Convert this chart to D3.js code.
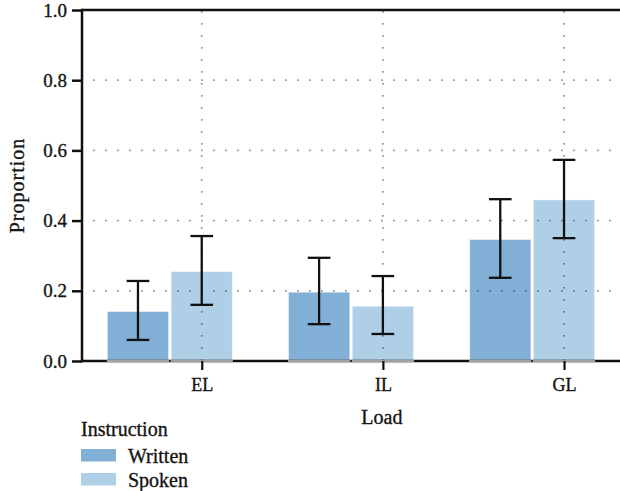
<!DOCTYPE html>
<html>
<head>
<meta charset="utf-8">
<script src="https://cdn.jsdelivr.net/npm/d3@7/dist/d3.min.js"></script>
<style>
  html, body { margin: 0; padding: 0; background: #fff; }
  svg { display: block; }
</style>
</head>
<body>
<svg id="chart" width="620" height="491"></svg>
<script>
// Proportion of responses by load type and instruction mode, with error bars
const categories = ["EL", "IL", "GL"];
const seriesNames = ["Written", "Spoken"];
const writtenMean  = [0.141, 0.196, 0.346];
const writtenLower = [0.060, 0.105, 0.237];
const writtenUpper = [0.228, 0.294, 0.461];
const spokenMean   = [0.255, 0.156, 0.459];
const spokenLower  = [0.160, 0.077, 0.350];
const spokenUpper  = [0.356, 0.242, 0.573];
const yTicks = [0, 0.2, 0.4, 0.6, 0.8, 1.0];
const colors = { Written: "#82afd6", Spoken: "#aecfe6" };
const SERIF = '"Liberation Serif", "Times New Roman", serif';
const INK = "#151515";

const rows = [];
categories.forEach((c, i) => {
  rows.push({ cat: c, series: "Written", v: writtenMean[i], lo: writtenLower[i], hi: writtenUpper[i] });
  rows.push({ cat: c, series: "Spoken",  v: spokenMean[i],  lo: spokenLower[i],  hi: spokenUpper[i] });
});

// shared text styling
function ink(sel, size) {
  sel.style("font-family", SERIF).style("font-size", size + "px")
    .attr("fill", INK).attr("stroke", INK).attr("stroke-width", 0.35);
}

const svg = d3.select("#chart");
const plotLeft = 82, plotRight = 620, plotTop = 10, plotBottom = 361;

const y = d3.scaleLinear().domain([0, 1]).range([plotBottom, plotTop]);
const x0 = d3.scaleBand().domain(categories).range([plotLeft, plotRight])
  .paddingInner(0.31).paddingOuter(0.14);
const x1 = d3.scaleBand().domain(seriesNames).range([0, x0.bandwidth()])
  .paddingInner(0.04);

// tick positions sit at the centre of the second bar in each group
const tickPos = d3.scaleOrdinal().domain(categories)
  .range(categories.map(c => x0(c) + x1("Spoken") + x1.bandwidth() / 2));

const bars = svg.append("g");
const over = svg.append("g");

// bars
bars.selectAll("rect").data(rows).join("rect")
  .attr("x", d => x0(d.cat) + x1(d.series))
  .attr("width", x1.bandwidth())
  .attr("y", d => y(d.v))
  .attr("height", d => y(0) - y(d.v))
  .attr("fill", d => colors[d.series])
  .attr("stroke", "#ffffff")
  .attr("stroke-opacity", 0.45)
  .attr("stroke-width", 1);

// dotted grid drawn over the bars
function dottedStyle(sel) {
  sel.attr("stroke", "#000").attr("stroke-opacity", 0.4)
    .attr("stroke-width", 1.8).attr("stroke-dasharray", "1.8,10.2");
}
over.selectAll("line.hgrid").data(yTicks.filter(t => t > 0 && t < 1)).join("line")
  .attr("class", "hgrid")
  .attr("x1", plotLeft + 11).attr("x2", plotRight)
  .attr("y1", d => y(d)).attr("y2", d => y(d))
  .call(dottedStyle);
over.selectAll("line.vgrid").data(categories).join("line")
  .attr("class", "vgrid")
  .attr("x1", d => tickPos(d)).attr("x2", d => tickPos(d))
  .attr("y1", y(1) + 1).attr("y2", y(0))
  .call(dottedStyle);

// frame lines: left axis, top and bottom
const frame = svg.append("g").attr("stroke", "#111").attr("stroke-width", 2.5);
frame.append("line").attr("x1", plotLeft).attr("x2", plotLeft).attr("y1", y(1) - 1.25).attr("y2", y(0) + 1.25);
frame.append("line").attr("x1", plotLeft).attr("x2", plotRight).attr("y1", y(1)).attr("y2", y(1));
frame.append("line").attr("x1", plotLeft).attr("x2", plotRight).attr("y1", y(0)).attr("y2", y(0));

// grey bar baselines over the axis line
svg.append("g").selectAll("line").data(rows).join("line")
  .attr("x1", d => x0(d.cat) + x1(d.series) - 0.5)
  .attr("x2", d => x0(d.cat) + x1(d.series) + x1.bandwidth() + 0.5)
  .attr("y1", y(0)).attr("y2", y(0))
  .attr("stroke", "#a3a3a3").attr("stroke-width", 2.5);

// error bars
const capW = x1.bandwidth() * 0.37;
const eb = svg.append("g").attr("stroke", "#111").attr("stroke-width", 2.3);
rows.forEach(d => {
  const cx = x0(d.cat) + x1(d.series) + x1.bandwidth() / 2;
  eb.append("line").attr("x1", cx).attr("x2", cx).attr("y1", y(d.lo)).attr("y2", y(d.hi));
  eb.append("line").attr("x1", cx - capW / 2).attr("x2", cx + capW / 2).attr("y1", y(d.lo)).attr("y2", y(d.lo));
  eb.append("line").attr("x1", cx - capW / 2).attr("x2", cx + capW / 2).attr("y1", y(d.hi)).attr("y2", y(d.hi));
});

// y axis ticks and labels
const yAxis = svg.append("g").attr("transform", `translate(${plotLeft},0)`)
  .call(d3.axisLeft(y).tickValues(yTicks).tickFormat(d3.format(".1f")).tickSize(10).tickPadding(5));
yAxis.select(".domain").remove();
yAxis.selectAll(".tick line").attr("stroke", "#111").attr("stroke-width", 2.5);
yAxis.selectAll(".tick text").call(ink, 19);

// x axis ticks and labels
const xAxis = svg.append("g").attr("transform", `translate(0,${plotBottom})`)
  .call(d3.axisBottom(tickPos).tickSize(9).tickPadding(8));
xAxis.select(".domain").remove();
xAxis.selectAll(".tick line").attr("stroke", "#111").attr("stroke-width", 2.2);
xAxis.selectAll(".tick text").call(ink, 18);

// axis titles
svg.append("text").attr("transform", `translate(24,${(y(0) + y(1)) / 2}) rotate(-90)`)
  .attr("text-anchor", "middle").attr("letter-spacing", 1).call(ink, 20)
  .text("Proportion");
svg.append("text").attr("x", d3.mean(categories, c => tickPos(c)) - 1).attr("y", 424)
  .attr("text-anchor", "middle").call(ink, 20).text("Load");

// legend
const legend = svg.append("g").attr("transform", "translate(81,436)");
legend.append("text").attr("x", 0).attr("y", 0).call(ink, 20).text("Instruction");
seriesNames.forEach((s, i) => {
  const g = legend.append("g").attr("transform", `translate(0,${13 + i * 24})`);
  g.append("rect").attr("width", 35).attr("height", 12.5).attr("fill", colors[s]);
  g.append("text").attr("x", 47).attr("y", 6.5).attr("dy", "0.35em").call(ink, 20).text(s);
});
</script>
</body>
</html>
